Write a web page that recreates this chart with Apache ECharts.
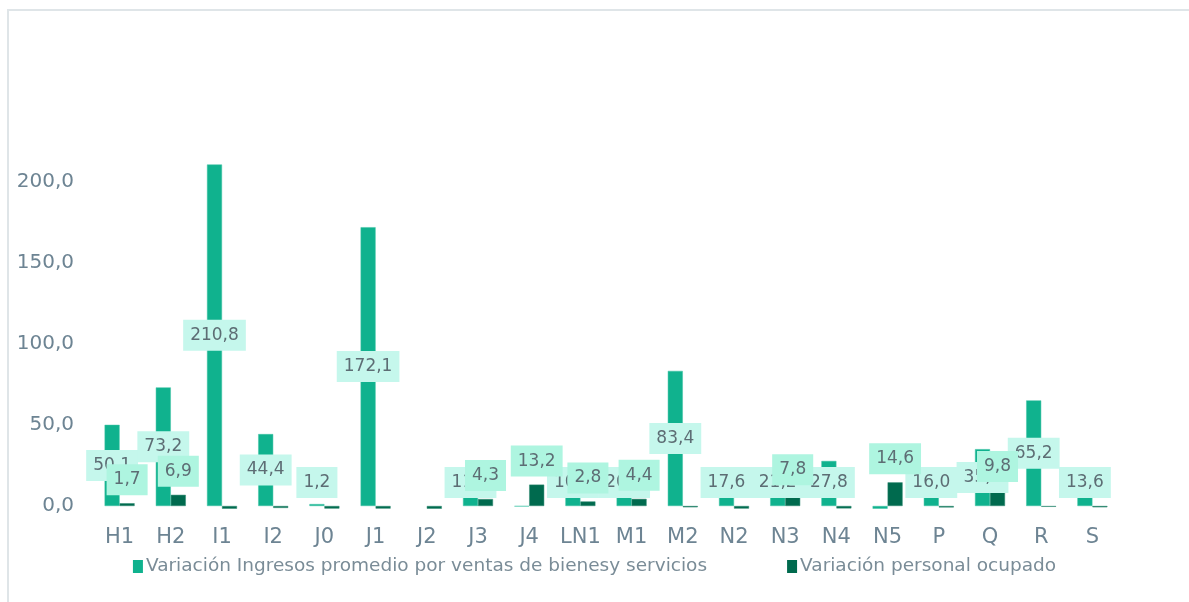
<!DOCTYPE html>
<html>
<head>
<meta charset="utf-8">
<title>Variación ingresos y personal ocupado</title>
<script src="https://cdn.jsdelivr.net/npm/echarts@6/dist/echarts.min.js"></script>
<style>
    html, body { margin: 0; padding: 0; background: #fff; }
    #frame {
        position: absolute; left: 7px; top: 9px; right: 0; bottom: 0;
        border-top: 2px solid #dfe5e8; border-left: 2px solid #dfe5e8;
    }
    #variacion_chart { position: absolute; left: 0; top: 0; width: 1189px; height: 602px; }
</style>
</head>
<body>
<div id="frame"></div>
<div id="variacion_chart"></div>
<script>
// Chart data
// ------------------------------

var categories = ['H1', 'H2', 'I1', 'I2', 'J0', 'J1', 'J2', 'J3', 'J4', 'LN1',
    'M1', 'M2', 'N2', 'N3', 'N4', 'N5', 'P', 'Q', 'R', 'S'];

// Variación Ingresos promedio por ventas de bienes y servicios
var ingresosValues = [50.1, 73.2, 210.8, 44.4, 1.2, 172.1, null, 11.5, -0.3, 10.9,
    20.4, 83.4, 17.6, 21.2, 27.8, -1.7, 16.0, 35.1, 65.2, 13.6];

// Variación personal ocupado
var personalValues = [1.7, 6.9, -1.7, -1.2, -1.6, -1.6, -1.7, 4.3, 13.2, 2.8,
    4.4, -0.8, -1.6, 7.8, -1.5, 14.6, -0.9, 9.8, -0.5, -0.8];

var yTicks = { min: 0, max: 250, interval: 50 };

var seriesNames = [
    'Variación Ingresos promedio por ventas de bienesy servicios',
    'Variación personal ocupado'
];


var EchartsVariacion = function() {

    var fmt = function(v) {
        return Number(v).toFixed(1).replace('.', ',');
    };

    var _variacionChart = function() {
        if (typeof echarts == 'undefined') {
            console.warn('Warning - echarts.min.js is not loaded.');
            return;
        }

        var element = document.getElementById('variacion_chart');
        if (!element) return;

        var chart = echarts.init(element, null, { renderer: 'canvas' });

        var labelBase = {
            color: '#5d6d74',
            fontSize: 17,
            fontFamily: 'DejaVu Sans',
            padding: [7, 7, 7, 7],
            formatter: function(p) { return fmt(p.value); }
        };

        // Light series: centred labels, lifted off the axis for short bars
        var ingresosData = ingresosValues.map(function(v) {
            if (v === null) return null;
            if (v < 0) return { value: v, label: { show: false } };
            if (v < 28) return { value: v, label: { position: 'insideBottom', distance: 8 } };
            return v;
        });

        // Dark series: labels above positive bars only
        var personalData = personalValues.map(function(v) {
            if (v < 0) return { value: v, label: { show: false } };
            return v;
        });

        chart.setOption({
            color: ['#10b28e', '#006a4e'],
            textStyle: { fontFamily: 'DejaVu Sans' },
            animation: false,

            grid: {
                left: 94,
                right: 71,
                top: 101,
                bottom: 96
            },

            legend: {
                data: seriesNames,
                bottom: 21,
                left: 'center',
                icon: 'rect',
                itemWidth: 10,
                itemHeight: 13,
                itemGap: 80,
                itemStyle: { borderWidth: 0 },
                textStyle: { color: '#7a8c97', fontSize: 18.5, padding: [0, 0, 0, -2] }
            },

            xAxis: {
                type: 'category',
                data: categories,
                axisLine: { show: false },
                axisTick: { show: false },
                axisLabel: { color: '#6d8493', fontSize: 21, margin: 21, interval: 0 },
                splitLine: { show: false }
            },

            yAxis: {
                type: 'value',
                min: yTicks.min,
                max: yTicks.max,
                interval: yTicks.interval,
                axisLine: { show: false },
                axisTick: { show: false },
                splitLine: { show: false },
                axisLabel: {
                    color: '#6d8493',
                    fontSize: 20,
                    margin: 20,
                    showMaxLabel: false,
                    formatter: function(v) { return fmt(v); }
                }
            },

            series: [
                {
                    name: seriesNames[0],
                    type: 'bar',
                    barWidth: 15,
                    barGap: '0%',
                    clip: false,
                    itemStyle: { color: '#10b28e', borderColor: '#3fc3a4', borderWidth: 0.5 },
                    label: Object.assign({
                        show: true,
                        position: 'inside',
                        backgroundColor: '#c5f7ec'
                    }, labelBase),
                    data: ingresosData
                },
                {
                    name: seriesNames[1],
                    type: 'bar',
                    barWidth: 15,
                    clip: false,
                    itemStyle: { color: '#006a4e', borderColor: '#2f8a72', borderWidth: 0.5 },
                    label: Object.assign({
                        show: true,
                        position: 'top',
                        distance: 8,
                        backgroundColor: '#aef5e0'
                    }, labelBase),
                    data: personalData
                }
            ]
        });

        window.addEventListener('resize', function() {
            chart.resize();
        });
    };

    return {
        init: function() {
            _variacionChart();
        }
    }
}();

document.addEventListener('DOMContentLoaded', function() {
    EchartsVariacion.init();
});
</script>
</body>
</html>
